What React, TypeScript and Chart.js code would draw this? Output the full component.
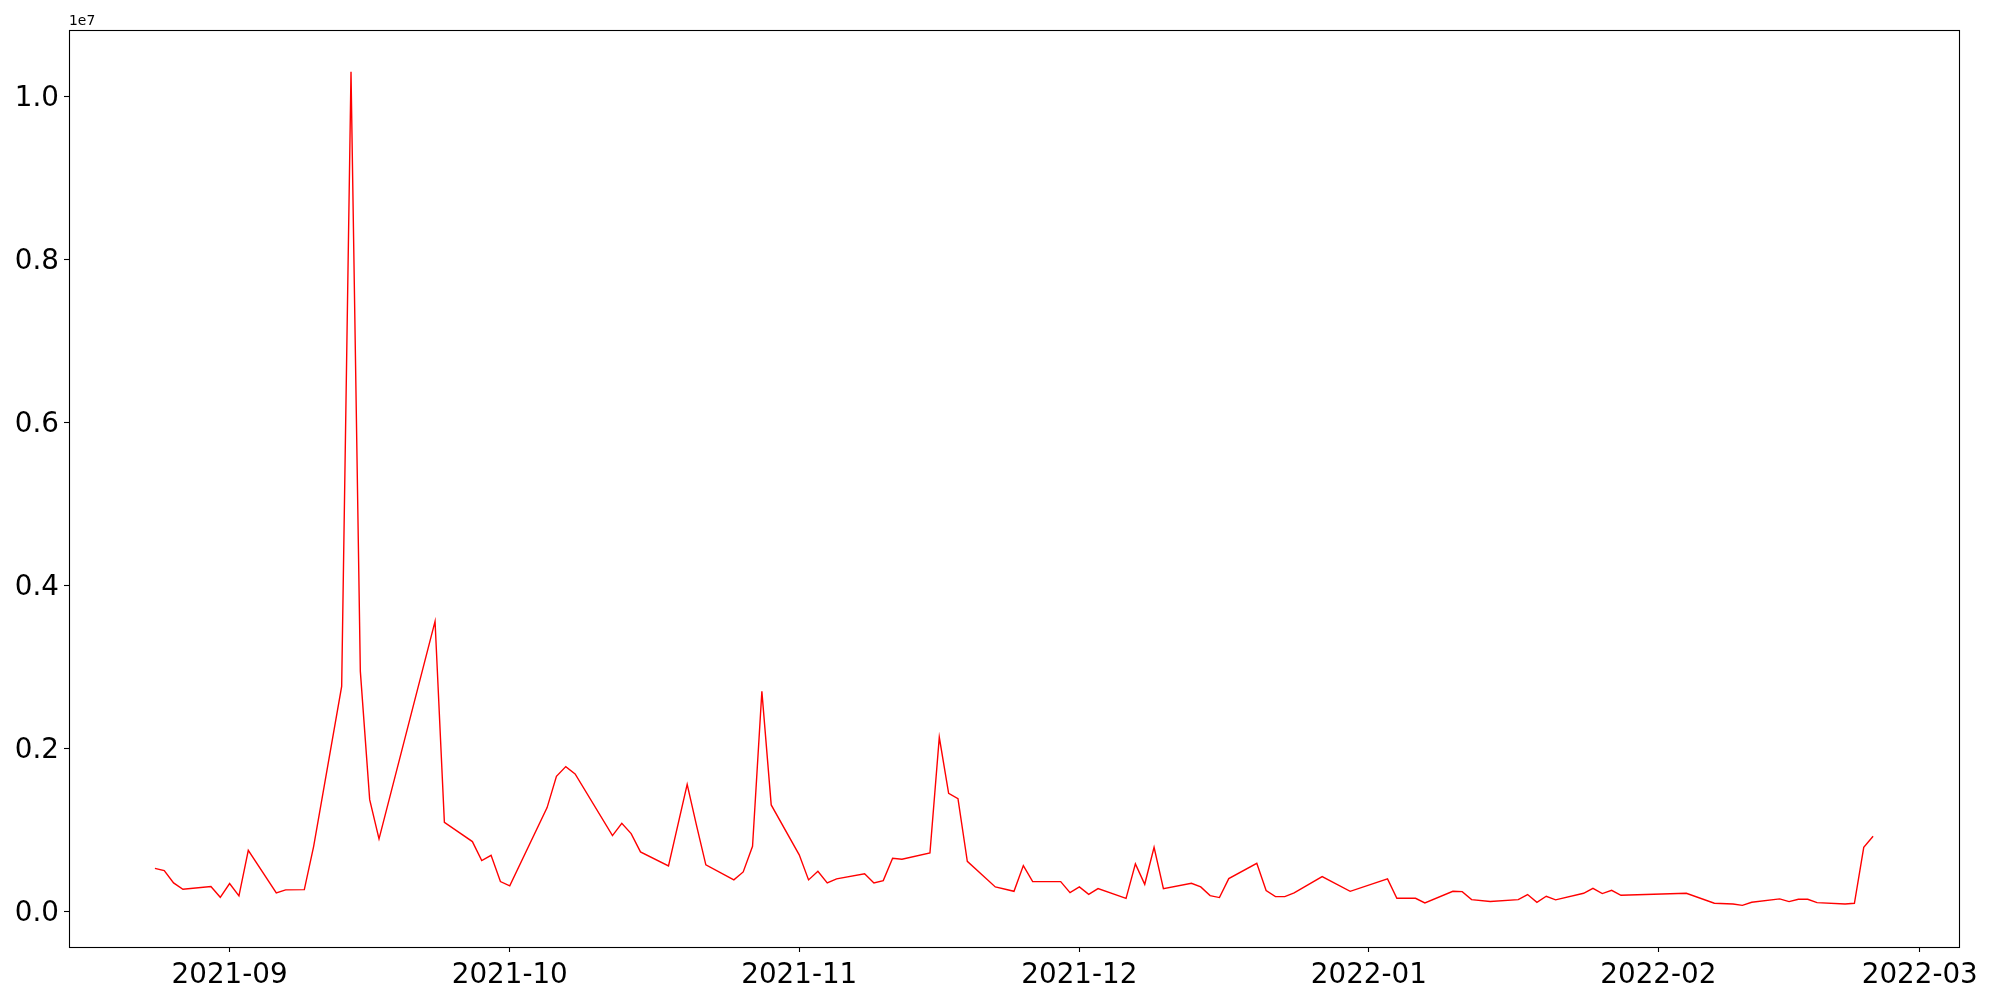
import React, { useEffect, useRef } from "react";
import { Chart, registerables } from "chart.js";

Chart.register(...registerables);

const dates: string[] = [
  "2021-08-24", "2021-08-25", "2021-08-26", "2021-08-27", "2021-08-30", "2021-08-31",
  "2021-09-01", "2021-09-02", "2021-09-03", "2021-09-06", "2021-09-07", "2021-09-09",
  "2021-09-10", "2021-09-13", "2021-09-14", "2021-09-15", "2021-09-16", "2021-09-17",
  "2021-09-23", "2021-09-24", "2021-09-27", "2021-09-28", "2021-09-29", "2021-09-30",
  "2021-10-01", "2021-10-05", "2021-10-06", "2021-10-07", "2021-10-08", "2021-10-12",
  "2021-10-13", "2021-10-14", "2021-10-15", "2021-10-18", "2021-10-20", "2021-10-21",
  "2021-10-22", "2021-10-25", "2021-10-26", "2021-10-27", "2021-10-28", "2021-10-29",
  "2021-11-01", "2021-11-02", "2021-11-03", "2021-11-04", "2021-11-05", "2021-11-08",
  "2021-11-09", "2021-11-10", "2021-11-11", "2021-11-12", "2021-11-15", "2021-11-16",
  "2021-11-17", "2021-11-18", "2021-11-19", "2021-11-22", "2021-11-24", "2021-11-25",
  "2021-11-26", "2021-11-29", "2021-11-30", "2021-12-01", "2021-12-02", "2021-12-03",
  "2021-12-06", "2021-12-07", "2021-12-08", "2021-12-09", "2021-12-10", "2021-12-13",
  "2021-12-14", "2021-12-15", "2021-12-16", "2021-12-17", "2021-12-20", "2021-12-21",
  "2021-12-22", "2021-12-23", "2021-12-24", "2021-12-27", "2021-12-30", "2022-01-03",
  "2022-01-04", "2022-01-06", "2022-01-07", "2022-01-10", "2022-01-11", "2022-01-12",
  "2022-01-14", "2022-01-17", "2022-01-18", "2022-01-19", "2022-01-20", "2022-01-21",
  "2022-01-24", "2022-01-25", "2022-01-26", "2022-01-27", "2022-01-28", "2022-02-04",
  "2022-02-07", "2022-02-09", "2022-02-10", "2022-02-11", "2022-02-14", "2022-02-15",
  "2022-02-16", "2022-02-17", "2022-02-18", "2022-02-21", "2022-02-22", "2022-02-23",
  "2022-02-24",
];

const volumes: number[] = [
  531000, 503000, 352000, 274000, 307000, 175000,
  344000, 193000, 752000, 229000, 266000, 270000,
  801000, 2764000, 10307000, 2948000, 1374000, 892000,
  3562000, 1096000, 859000, 626000, 691000, 368000,
  315000, 1276000, 1660000, 1779000, 1690000, 933000,
  1083000, 957000, 733000, 561000, 1562000, 1059000,
  573000, 389000, 487000, 801000, 2703000, 1309000,
  696000, 389000, 494000, 352000, 401000, 463000,
  352000, 380000, 654000, 642000, 720000, 2139000,
  1452000, 1387000, 617000, 303000, 249000, 564000,
  368000, 368000, 233000, 303000, 212000, 282000,
  163000, 585000, 335000, 789000, 282000, 347000,
  303000, 196000, 172000, 405000, 593000, 258000,
  184000, 184000, 229000, 429000, 249000, 401000,
  163000, 163000, 107000, 249000, 245000, 147000,
  123000, 147000, 209000, 114000, 188000, 144000,
  225000, 286000, 221000, 261000, 200000, 225000,
  102000, 94000, 77000, 114000, 156000, 123000,
  151000, 151000, 110000, 94000, 102000, 789000,
  924000,
];

const xTickDates: string[] = [
  "2021-09-01", "2021-10-01", "2021-11-01", "2021-12-01",
  "2022-01-01", "2022-02-01", "2022-03-01",
];
const xTickLabels: string[] = [
  "2021-09", "2021-10", "2021-11", "2021-12", "2022-01", "2022-02", "2022-03",
];
const yTickValues: number[] = [0, 2000000, 4000000, 6000000, 8000000, 10000000];
const yTickLabels: string[] = ["0.0", "0.2", "0.4", "0.6", "0.8", "1.0"];
const yOffsetLabel = "1e7";

function dayNum(s: string): number {
  const [y, m, d] = s.split("-").map(Number);
  return Date.UTC(y, m - 1, d) / 86400000;
}

const FONT = "'DejaVu Sans', sans-serif";

export default function App() {
  const ref = useRef<HTMLCanvasElement | null>(null);

  useEffect(() => {
    document.body.style.margin = "0";
    const canvas = ref.current;
    if (!canvas) return;

    const xs = dates.map(dayNum);
    const xMinD = Math.min(...xs);
    const xMaxD = Math.max(...xs);
    const xPad = (xMaxD - xMinD) * 0.05;
    const yMinD = Math.min(...volumes);
    const yMaxD = Math.max(...volumes);
    const yPad = (yMaxD - yMinD) * 0.05;
    const xTicks = xTickDates.map(dayNum);

    const frame = {
      id: "frame",
      afterDraw(chart: any) {
        const { ctx, chartArea } = chart;
        const { left, top, right, bottom } = chartArea;
        ctx.save();
        ctx.strokeStyle = "#000";
        ctx.lineWidth = 1.1;
        ctx.strokeRect(Math.round(left) + 0.5, Math.round(top) + 0.5,
          Math.round(right) - Math.round(left), Math.round(bottom) - Math.round(top));
        ctx.fillStyle = "#000";
        ctx.font = `13.9px ${FONT}`;
        ctx.textAlign = "left";
        ctx.textBaseline = "alphabetic";
        ctx.fillText(yOffsetLabel, left, top - 5);
        ctx.restore();
      },
    };

    const chart = new Chart(canvas, {
      type: "line",
      data: {
        datasets: [
          {
            data: xs.map((x, i) => ({ x, y: volumes[i] })),
            borderColor: "#ff0000",
            borderWidth: 1.4,
            pointRadius: 0,
            tension: 0,
            fill: false,
          },
        ],
      },
      options: {
        responsive: false,
        animation: false,
        devicePixelRatio: 1,
        layout: { padding: { left: 0, right: 41, top: 30, bottom: 0 } },
        plugins: {
          legend: { display: false },
          tooltip: { enabled: false },
        },
        scales: {
          x: {
            type: "linear",
            min: xMinD - xPad,
            max: xMaxD + xPad,
            border: { display: false },
            grid: {
              display: true,
              drawOnChartArea: false,
              drawTicks: true,
              tickLength: 5,
              tickColor: "#000",
              tickWidth: 1.1,
            },
            ticks: {
              color: "#000",
              font: { family: FONT, size: 27.78 },
              padding: 7,
              maxRotation: 0,
              autoSkip: false,
              callback: (_v: any, i: number) => xTickLabels[i],
            },
            afterBuildTicks: (s: any) => {
              s.ticks = xTicks.map((v) => ({ value: v }));
            },
            afterFit: (s: any) => {
              s.height = 53;
            },
          },
          y: {
            type: "linear",
            min: yMinD - yPad,
            max: yMaxD + yPad,
            border: { display: false },
            grid: {
              display: true,
              drawOnChartArea: false,
              drawTicks: true,
              tickLength: 5,
              tickColor: "#000",
              tickWidth: 1.1,
            },
            ticks: {
              color: "#000",
              font: { family: FONT, size: 27.78 },
              padding: 5,
              labelOffset: 2,
              autoSkip: false,
              callback: (_v: any, i: number) => yTickLabels[i],
            },
            afterBuildTicks: (s: any) => {
              s.ticks = yTickValues.map((v) => ({ value: v }));
            },
            afterFit: (s: any) => {
              s.width = 69;
            },
          },
        },
      },
      plugins: [frame],
    });

    return () => chart.destroy();
  }, []);

  return (
    <div style={{ width: 2000, height: 1000, background: "#fff" }}>
      <canvas ref={ref} width={2000} height={1000} style={{ display: "block" }} />
    </div>
  );
}
